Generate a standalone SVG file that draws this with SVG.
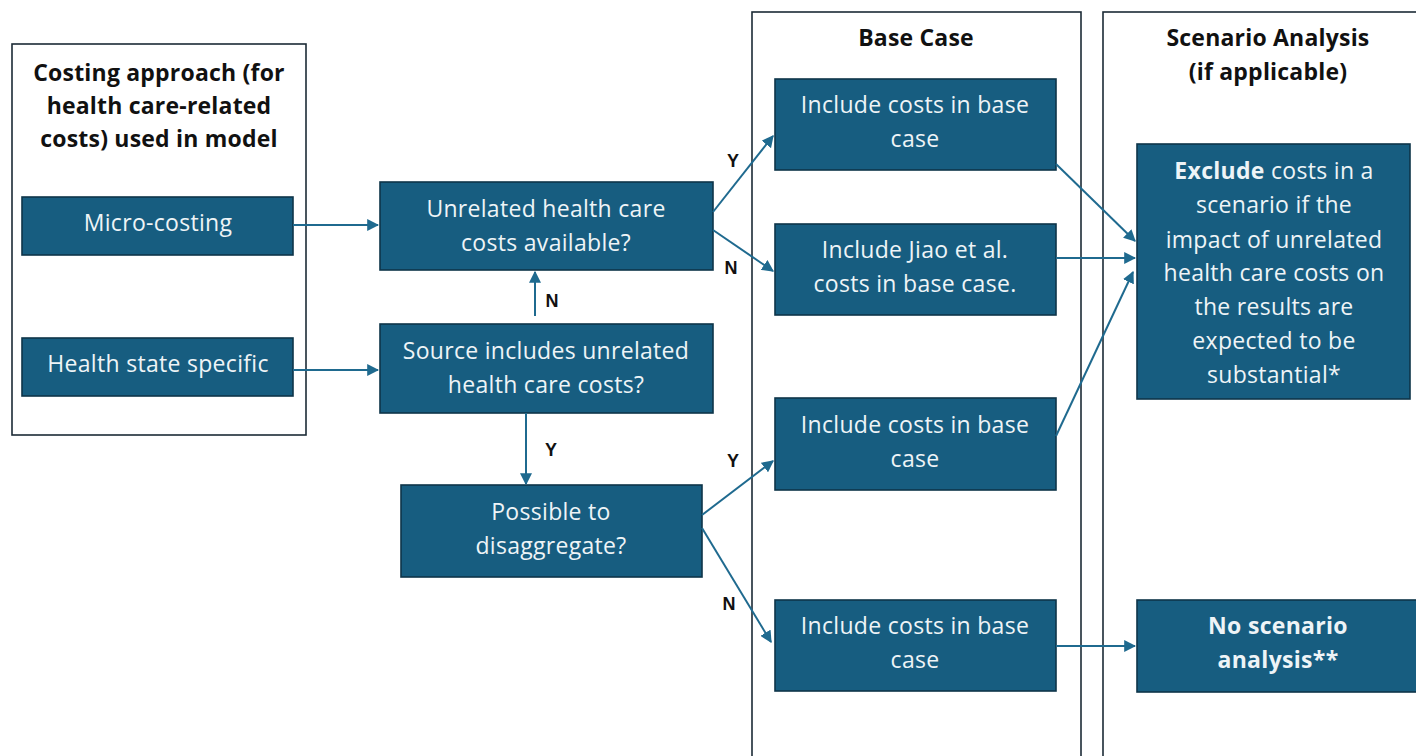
<svg xmlns="http://www.w3.org/2000/svg" width="1416" height="756" viewBox="0 0 1416 756">
<defs>
<marker id="arr" viewBox="0 0 10 10" refX="9" refY="5" markerWidth="6" markerHeight="6" orient="auto" markerUnits="strokeWidth">
<path d="M0,0 L10,5 L0,10 z" fill="#1f6a8f"/>
</marker>
<style>
.panel{fill:#fff;stroke:#1c2b36;stroke-width:1.6}
.node{fill:#175d80;stroke:#0e3549;stroke-width:1.6}
.t{font-family:"Open Sans","Liberation Sans",sans-serif;font-size:23px;letter-spacing:0.3px;fill:#eef4f7;text-anchor:middle}
.b{font-weight:bold}
.h{font-family:"Open Sans","Liberation Sans",sans-serif;font-size:23px;letter-spacing:0.2px;font-weight:bold;fill:#111;text-anchor:middle}
.lbl{font-family:"Liberation Sans",Arial,sans-serif;font-size:18px;font-weight:bold;fill:#111;text-anchor:middle}
.c{stroke:#1f6a8f;stroke-width:2;fill:none;marker-end:url(#arr)}
</style>
</defs>
<rect width="1416" height="756" fill="#fff"/>
<g id="panel-costing">
<rect class="panel" x="12" y="44" width="294" height="391"/>
<text class="h" x="159" y="81">Costing approach (for</text>
<text class="h" x="159" y="114">health care-related</text>
<text class="h" x="159" y="147">costs) used in model</text>
</g>
<g id="panel-base">
<rect class="panel" x="752" y="12" width="329" height="760"/>
<text class="h" x="916" y="46">Base Case</text>
</g>
<g id="panel-scenario">
<rect class="panel" x="1103" y="12" width="330" height="760"/>
<text class="h" x="1268" y="46">Scenario Analysis</text>
<text class="h" x="1268" y="80">(if applicable)</text>
</g>
<g id="micro">
<rect class="node" x="22" y="197" width="271" height="58"/>
<text class="t" x="158" y="231">Micro-costing</text>
</g>
<g id="health-state">
<rect class="node" x="22" y="338" width="271" height="58"/>
<text class="t" x="158" y="372">Health state specific</text>
</g>
<g id="unrelated">
<rect class="node" x="380" y="182" width="333" height="88"/>
<text class="t" x="546" y="217">Unrelated health care</text>
<text class="t" x="546" y="251">costs available?</text>
</g>
<g id="source">
<rect class="node" x="380" y="324" width="333" height="89"/>
<text class="t" x="546" y="359">Source includes unrelated</text>
<text class="t" x="546" y="393">health care costs?</text>
</g>
<g id="possible">
<rect class="node" x="401" y="485" width="301" height="92"/>
<text class="t" x="551" y="520">Possible to</text>
<text class="t" x="551" y="554">disaggregate?</text>
</g>
<g id="base1">
<rect class="node" x="775" y="79" width="281" height="91"/>
<text class="t" x="915" y="113">Include costs in base</text>
<text class="t" x="915" y="147">case</text>
</g>
<g id="base2">
<rect class="node" x="775" y="224" width="281" height="91"/>
<text class="t" x="915" y="258">Include Jiao et al.</text>
<text class="t" x="915" y="292">costs in base case.</text>
</g>
<g id="base3">
<rect class="node" x="775" y="398" width="281" height="92"/>
<text class="t" x="915" y="433">Include costs in base</text>
<text class="t" x="915" y="467">case</text>
</g>
<g id="base4">
<rect class="node" x="775" y="600" width="281" height="91"/>
<text class="t" x="915" y="634">Include costs in base</text>
<text class="t" x="915" y="668">case</text>
</g>
<g id="scen1">
<rect class="node" x="1137" y="144" width="273" height="255"/>
<text class="t" x="1274" y="179"><tspan class="b">Exclude</tspan> costs in a</text>
<text class="t" x="1274" y="213">scenario if the</text>
<text class="t" x="1274" y="248">impact of unrelated</text>
<text class="t" x="1274" y="281">health care costs on</text>
<text class="t" x="1274" y="315">the results are</text>
<text class="t" x="1274" y="349">expected to be</text>
<text class="t" x="1274" y="383">substantial*</text>
</g>
<g id="scen2">
<rect class="node" x="1137" y="600" width="290" height="92"/>
<text class="t b" x="1278" y="634">No scenario</text>
<text class="t b" x="1278" y="668">analysis**</text>
</g>
<g id="connectors">
<line class="c" x1="293" y1="225" x2="378" y2="225"/>
<line class="c" x1="293" y1="370" x2="378" y2="370"/>
<line class="c" x1="535" y1="316" x2="535" y2="272"/>
<line class="c" x1="526" y1="413" x2="526" y2="484"/>
<line class="c" x1="713" y1="212" x2="773" y2="136"/>
<line class="c" x1="713" y1="230" x2="773" y2="271"/>
<line class="c" x1="702" y1="515" x2="773" y2="461"/>
<line class="c" x1="702" y1="528" x2="771" y2="642"/>
<line class="c" x1="1056" y1="164" x2="1135" y2="241"/>
<line class="c" x1="1056" y1="258" x2="1135" y2="258"/>
<line class="c" x1="1056" y1="436" x2="1133" y2="272"/>
<line class="c" x1="1056" y1="646" x2="1135" y2="646"/>
</g>
<g id="labels">
<text class="lbl" x="552" y="307">N</text>
<text class="lbl" x="551" y="456">Y</text>
<text class="lbl" x="733" y="167">Y</text>
<text class="lbl" x="731" y="274">N</text>
<text class="lbl" x="733" y="467">Y</text>
<text class="lbl" x="729" y="610">N</text>
</g>
</svg>
